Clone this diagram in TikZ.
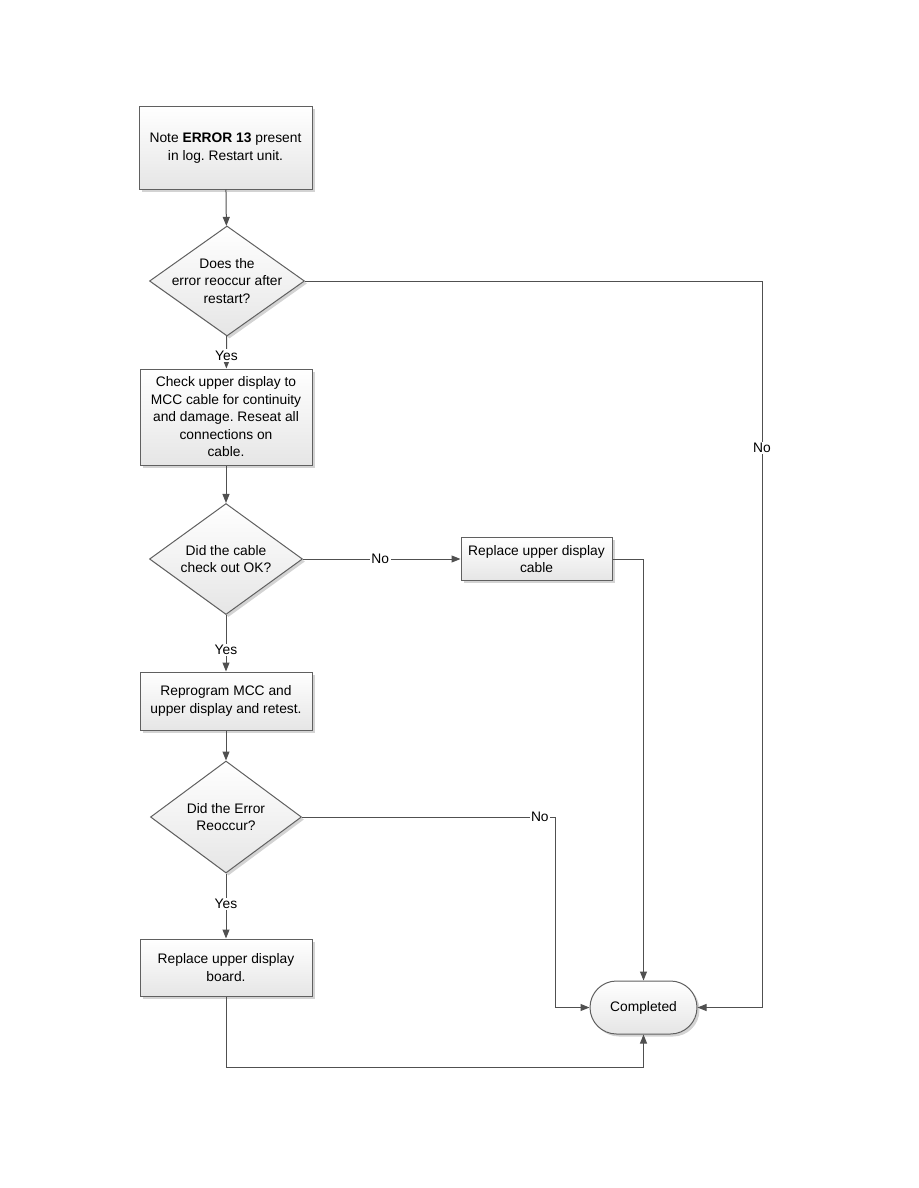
\documentclass[tikz,border=0pt]{standalone}
\usepackage{fontspec}
\setmainfont{Liberation Sans}
\usetikzlibrary{shapes.geometric,shapes.misc,shadows,arrows.meta}
\definecolor{linegray}{HTML}{505050}
\definecolor{boxedge}{HTML}{606060}
\frenchspacing
\begin{document}
\begin{tikzpicture}[x=1pt,y=-1pt,
    font=\fontsize{13.8}{17.5}\selectfont,
    every path/.style={line width=1pt},
    task/.style={rectangle, draw=boxedge, top color=white, bottom color=black!10,
        drop shadow={shadow xshift=2.5pt, shadow yshift=-2.5pt, opacity=0.35},
        align=center, inner sep=0pt},
    query/.style={diamond, draw=boxedge, top color=white, bottom color=black!10,
        drop shadow={shadow xshift=2.5pt, shadow yshift=-2.5pt, opacity=0.35},
        minimum width=155pt, minimum height=110pt, inner sep=0pt},
    finish/.style={rounded rectangle, draw=boxedge, top color=white, bottom color=black!10,
        minimum width=107pt, minimum height=53pt, inner sep=0pt},
    flow/.style={draw=linegray, -{Triangle[length=9pt,width=7pt]}},
    answer/.style={fill=white, inner sep=1.5pt}]
    \useasboundingbox (0,0) rectangle (918,1188);

    % Boxes
    \node[task, minimum width=173pt, minimum height=82pt] (note) at (225.5,148)
        {Note \textbf{ERROR 13} present\\in log. Restart unit.};
    \node[query] (recur) at (227,281) {};
    \node[align=center] at (recur) {Does the\\error reoccur after\\restart?};
    \node[task, minimum width=172pt, minimum height=96pt] (check) at (226,417)
        {Check upper display to\\MCC cable for continuity\\and damage. Reseat all\\connections on\\cable.};
    \node[query, minimum width=153pt, minimum height=111pt] (cableok) at (226,559) {};
    \node[align=center] at (cableok) {Did the cable\\check out OK?};
    \node[task, minimum width=151pt, minimum height=43pt] (cable) at (536.5,559)
        {Replace upper display\\cable};
    \node[task, minimum width=172pt, minimum height=58pt] (reprog) at (226,701)
        {Reprogram MCC and\\upper display and retest.};
    \node[query, minimum width=151pt, minimum height=112pt] (again) at (226,817) {};
    \node[align=center] at (again) {Did the Error\\Reoccur?};
    \node[task, minimum width=172pt, minimum height=57pt] (board) at (226,967.5)
        {Replace upper display\\board.};
    \node[finish, drop shadow={shadow xshift=2.5pt, shadow yshift=-2.5pt, opacity=0.35}]
        (done) at (643.5,1007.5) {Completed};

    % Corners
    \coordinate (c1) at (762,281);
    \coordinate (c2) at (643.5,559);
    \coordinate (c3) at (555,817);
    \coordinate (c4) at (226,1067);

    % Lines
    \draw[flow] (note) -- (recur);
    \draw[flow] (recur) -- node[answer, pos=0.6] {Yes} (check);
    \draw[flow] (recur.east) -- (c1) -- node[answer, pos=0.23] {No} (c1 |- done.east) -- (done.east);
    \draw[flow] (check) -- (cableok);
    \draw[flow] (cableok.east) -- node[answer, pos=0.49] {No} (cable.west);
    \draw[flow] (cableok) -- node[answer, pos=0.62] {Yes} (reprog);
    \draw[flow] (cable.east) -- (c2) -- (done.north);
    \draw[flow] (reprog) -- (again);
    \draw[flow] (again.east) -- node[answer, pos=0.94] {No} (c3) -- (c3 |- done.west) -- (done.west);
    \draw[flow] (again) -- node[answer, pos=0.47] {Yes} (board);
    \draw[flow] (board) -- (c4) -- (c4 -| done.south) -- (done.south);

\end{tikzpicture}
\end{document}
